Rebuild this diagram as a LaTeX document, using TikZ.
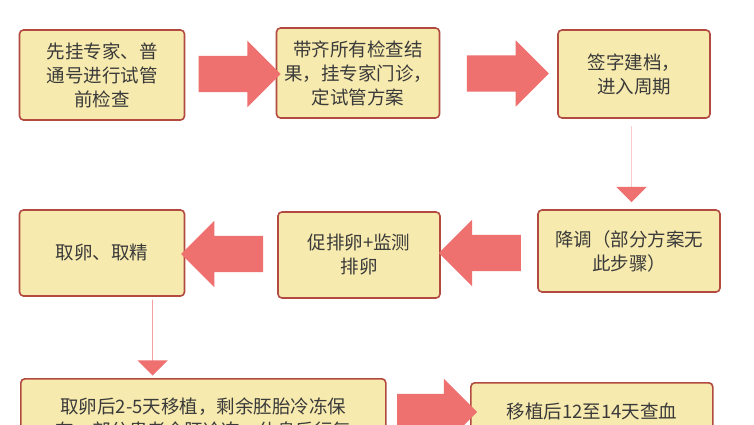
\documentclass[tikz,border=0pt]{standalone}
\usepackage{fontspec}
\newfontfamily\cjk{Noto Sans CJK SC}
\usetikzlibrary{shapes.arrows,calc}
\definecolor{boxfill}{HTML}{F7EAAE}
\definecolor{boxline}{HTML}{B24A40}
\definecolor{arrowred}{HTML}{EE7170}
\definecolor{txt}{HTML}{3A3A3A}
\tikzset{>=latex}

\begin{document}
\begin{tikzpicture}[x=1pt,y=-1pt,
                    stepbox/.style={draw=boxline,line width=1.6pt,fill=boxfill,rounded corners=4pt,
                                    font=\cjk\fontsize{18.5}{24}\selectfont,text=txt,align=center,inner sep=2pt},
                    bigarrow/.style={single arrow,fill=arrowred,draw=none,single arrow head extend=15pt,
                                     minimum height=82pt,inner xsep=0pt,inner ysep=18pt},
       ]
    \useasboundingbox (0,0) rectangle (754,424);
    \fill[white] (0,0) rectangle (754,424);
    \begin{scope}
    \clip (0,0) rectangle (754,424);
    % first row
    \node[stepbox,minimum width=165pt,minimum height=90pt] (jiancha) at (102,75) {先挂专家、普\\通号进行试管\\前检查};
    \node[stepbox,minimum width=163pt,minimum height=90pt] (fangan) at (358,73) {带齐所有检查结\\果，挂专家门诊，\\定试管方案};
    \node[stepbox,minimum width=152pt,minimum height=88pt] (jiandang) at (634,74) {签字建档，\\进入周期};
    % second row
    \node[stepbox,minimum width=182pt,minimum height=82pt] (jiangtiao) at (629,251) {降调（部分方案无\\此步骤）};
    \node[stepbox,minimum width=162pt,minimum height=86pt] (cupai) at (359,255) {促排卵+监测\\排卵};
    \node[stepbox,minimum width=165pt,minimum height=86pt] (quluan) at (102,253) {取卵、取精};
    % third row
    \node[stepbox,minimum width=365pt,minimum height=80pt,anchor=north west] (yizhi) at (20,378)
        {取卵后2-5天移植，剩余胚胎冷冻保\\存，部分患者全胚冷冻，休息后行复};
    \node[stepbox,minimum width=242pt,minimum height=80pt,anchor=north west] (chaxue) at (470,382)
        {移植后12至14天查血\\\phantom{x}};
    % block arrows
    \node[bigarrow] (a1) at ($(jiancha.east)!0.5!(fangan.west)$) {};
    \node[bigarrow] (a2) at ($(fangan.east)!0.5!(jiandang.west)$) {};
    \node[bigarrow,shape border rotate=270,minimum height=76pt] (a3) at ($(jiandang.south)!0.5!(jiangtiao.north)$) {};
    \node[bigarrow,shape border rotate=180] (a4) at ($(jiangtiao.west)!0.5!(cupai.east)$) {};
    \node[bigarrow,shape border rotate=180] (a5) at ($(cupai.west)!0.5!(quluan.east)$) {};
    \node[bigarrow,shape border rotate=270,minimum height=76pt] (a6) at ($(quluan.south)!0.5!(yizhi.north)$) {};
    \node[bigarrow,minimum height=80pt] (a7) at (428,412) {};
    \end{scope}
\end{tikzpicture}
\end{document}
